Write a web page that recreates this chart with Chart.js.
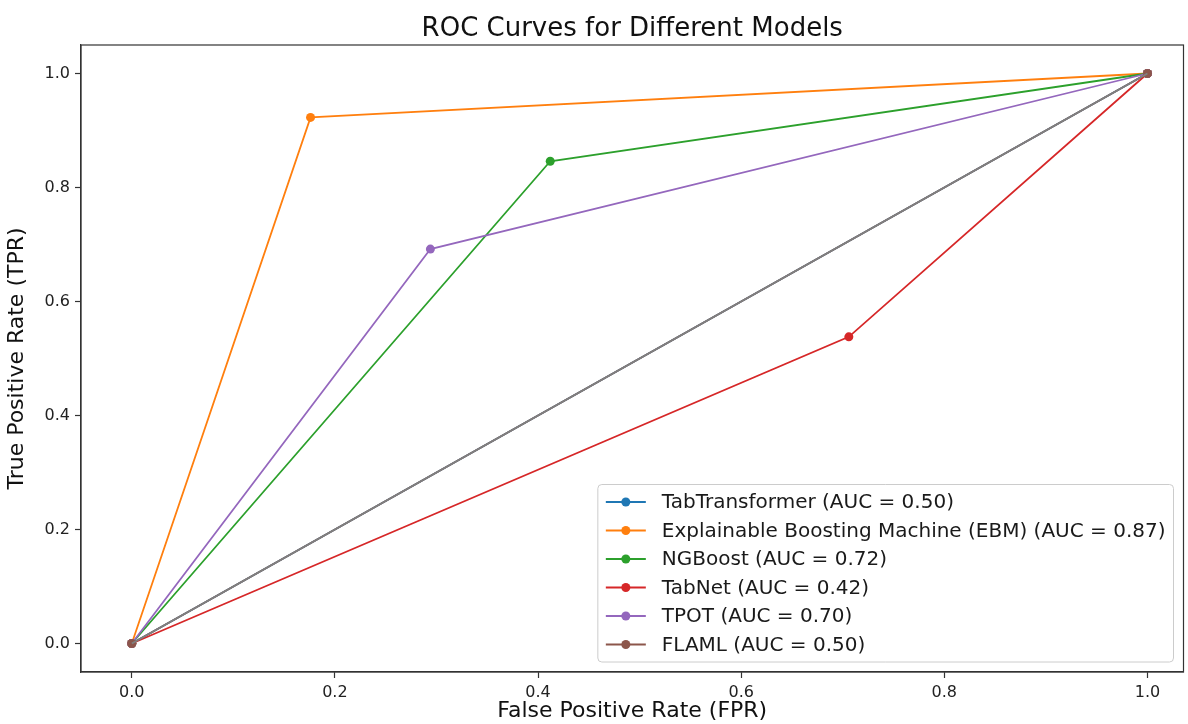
<!DOCTYPE html>
<html><head><meta charset="utf-8">
<script src="https://cdn.jsdelivr.net/npm/chart.js@4.4.0/dist/chart.umd.min.js"></script>
<style>html,body{margin:0;padding:0;background:#fff;}#wrap{width:1188px;height:724px;}</style>
</head><body><div id="wrap"><canvas id="c" width="1188" height="724"></canvas></div>
<script>
// ---- data ----
const models = ['TabTransformer', 'Explainable Boosting Machine (EBM)', 'NGBoost', 'TabNet', 'TPOT', 'FLAML'];
const aucs = [0.50, 0.87, 0.72, 0.42, 0.70, 0.50];
const colors = ['#1f77b4', '#ff7f0e', '#2ca02c', '#d62728', '#9467bd', '#8c564b'];
const fprTabTransformer = [0, 1];          const tprTabTransformer = [0, 1];
const fprEBM = [0, 0.176, 1];              const tprEBM = [0, 0.923, 1];
const fprNGBoost = [0, 0.412, 1];          const tprNGBoost = [0, 0.846, 1];
const fprTabNet = [0, 0.706, 1];           const tprTabNet = [0, 0.538, 1];
const fprTPOT = [0, 0.294, 1];             const tprTPOT = [0, 0.692, 1];
const fprFLAML = [0, 1];                   const tprFLAML = [0, 1];
const chanceX = [0, 1];                    const chanceY = [0, 1];
const xTicks = [0, 0.2, 0.4, 0.6, 0.8, 1.0];
const yTicks = [0, 0.2, 0.4, 0.6, 0.8, 1.0];

const fprs = [fprTabTransformer, fprEBM, fprNGBoost, fprTabNet, fprTPOT, fprFLAML];
const tprs = [tprTabTransformer, tprEBM, tprNGBoost, tprTabNet, tprTPOT, tprFLAML];

const FONT = '"DejaVu Sans", "Liberation Sans", sans-serif';
const pts = (xs, ys) => xs.map((x, i) => ({x: x, y: ys[i]}));

const datasets = models.map((m, i) => ({
  label: m + ' (AUC = ' + aucs[i].toFixed(2) + ')',
  data: pts(fprs[i], tprs[i]),
  showLine: true,
  borderColor: colors[i],
  backgroundColor: colors[i],
  borderWidth: 1.8,
  pointRadius: 4.5,
  pointBorderWidth: 0,
  pointHoverRadius: 4.5,
  order: models.length - i
}));
datasets.push({
  label: '__chance',
  data: pts(chanceX, chanceY),
  showLine: true,
  borderColor: '#808080',
  backgroundColor: '#808080',
  borderWidth: 1.8,
  pointRadius: 0,
  order: 0
});

const framePlugin = {
  id: 'frame',
  afterDraw(chart) {
    const {ctx, chartArea: a} = chart;
    ctx.save();
    ctx.strokeStyle = '#333';
    ctx.lineWidth = 1.2;
    ctx.strokeRect(a.left, a.top, a.right - a.left, a.bottom - a.top);
    ctx.restore();
  }
};

const legendPlugin = {
  id: 'innerLegend',
  afterDraw(chart) {
    const {ctx, chartArea: a} = chart;
    const F = 20;
    const items = chart.data.datasets.filter(d => d.label !== '__chance');
    ctx.save();
    ctx.font = F + 'px ' + FONT;
    let maxW = 0;
    items.forEach(d => { maxW = Math.max(maxW, ctx.measureText(d.label).width); });
    const pad = 0.4 * F, handleLen = 2 * F, gap = 0.8 * F, textH = 0.95 * F, spacing = 0.475 * F;
    const boxW = pad * 2 + handleLen + gap + maxW;
    const boxH = pad * 2 + items.length * textH + (items.length - 1) * spacing;
    const right = a.right - 0.5 * F, bottom = a.bottom - 0.5 * F;
    const left = right - boxW, top = bottom - boxH;
    ctx.beginPath();
    if (ctx.roundRect) ctx.roundRect(left, top, boxW, boxH, 4); else ctx.rect(left, top, boxW, boxH);
    ctx.fillStyle = 'rgba(255,255,255,0.8)';
    ctx.fill();
    ctx.strokeStyle = '#cccccc';
    ctx.lineWidth = 1;
    ctx.stroke();
    items.forEach((d, i) => {
      const cy = top + pad + i * (textH + spacing) + textH / 2;
      const x0 = left + pad;
      ctx.strokeStyle = d.borderColor;
      ctx.lineWidth = 1.8;
      ctx.beginPath(); ctx.moveTo(x0, cy); ctx.lineTo(x0 + handleLen, cy); ctx.stroke();
      ctx.fillStyle = d.borderColor;
      ctx.beginPath(); ctx.arc(x0 + handleLen / 2, cy, 4.5, 0, Math.PI * 2); ctx.fill();
      ctx.fillStyle = '#1a1a1a';
      ctx.textBaseline = 'middle';
      ctx.textAlign = 'left';
      ctx.fillText(d.label, x0 + handleLen + gap, cy + 1);
    });
    ctx.restore();
  }
};

const tickFont = {family: FONT, size: 16};
const titleFont = {family: FONT, size: 22};

new Chart(document.getElementById('c'), {
  type: 'scatter',
  data: {datasets: datasets},
  options: {
    responsive: false,
    animation: false,
    devicePixelRatio: 1,
    events: [],
    layout: {padding: {left: 0, right: 2, top: 0, bottom: 0}},
    plugins: {
      legend: {display: false},
      tooltip: {enabled: false},
      title: {
        display: true,
        fullSize: false,
        text: 'ROC Curves for Different Models',
        font: {family: FONT, size: 26, weight: 'normal'},
        color: '#111',
        padding: {top: 13.8, bottom: 0}
      }
    },
    scales: {
      x: {
        type: 'linear',
        min: -0.05,
        max: 1.0355,
        afterBuildTicks: s => { s.ticks = xTicks.map(v => ({value: v})); },
        afterFit: s => { s.height = 52; },
        grid: {display: true, drawOnChartArea: false, drawTicks: true, tickLength: 6, tickWidth: 1.2, tickColor: '#333'},
        border: {display: true, color: '#333', width: 1.2},
        ticks: {padding: 5, font: tickFont, color: '#222', maxRotation: 0, autoSkip: false, callback: v => Number(v).toFixed(1)},
        title: {display: true, text: 'False Positive Rate (FPR)', font: titleFont, color: '#111', padding: {top: 0, bottom: 0}}
      },
      y: {
        type: 'linear',
        min: -0.05,
        max: 1.05,
        afterBuildTicks: s => { s.ticks = yTicks.map(v => ({value: v})); },
        afterFit: s => { s.width = 81; },
        grid: {display: true, drawOnChartArea: false, drawTicks: true, tickLength: 6, tickWidth: 1.2, tickColor: '#333'},
        border: {display: true, color: '#333', width: 1.2},
        ticks: {padding: 5, font: tickFont, color: '#222', autoSkip: false, callback: v => Number(v).toFixed(1)},
        title: {display: true, text: 'True Positive Rate (TPR)', font: titleFont, color: '#111', padding: {top: 4, bottom: 0}}
      }
    }
  },
  plugins: [framePlugin, legendPlugin]
});
</script>
</body></html>
